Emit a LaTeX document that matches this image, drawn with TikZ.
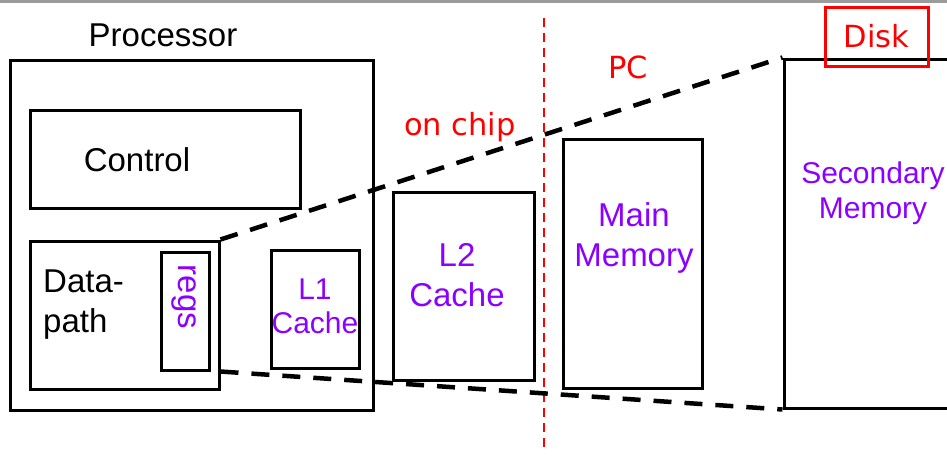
\documentclass[tikz,border=0pt]{standalone}
\usepackage{fontspec}
\setmainfont{Liberation Sans}
\newfontfamily\redfont{DejaVu Sans}
\usetikzlibrary{positioning,calc}
\definecolor{memviolet}{RGB}{140,0,255}
\definecolor{bargray}{RGB}{155,155,155}

\begin{document}
\begin{tikzpicture}[
  x=1pt, y=-1pt,
  unit/.style={draw=black, line width=3pt, inner sep=0pt},
  lbl/.style={inner sep=0pt, align=center, font=\fontsize{33}{40}\selectfont},
  memlbl/.style={lbl, text=memviolet},
  chiplbl/.style={inner sep=0pt, text=red, font=\redfont\fontsize{30.5}{34}\selectfont},
  funnel/.style={line width=4.5pt, dash pattern=on 18pt off 13pt},
]
\useasboundingbox (0,0) rectangle (947,459);
\clip (0,0) rectangle (947,459);

% top rule
\fill[bargray] (0,0) rectangle (947,3);

% ==================== processor ====================
\node[lbl] (ptitle) at (163,35) {Processor};
\node[unit, minimum width=363pt, minimum height=350pt] (proc) at (191.5,235) {};
\node[unit, minimum width=270pt, minimum height=98pt] (ctrl) at (165,159) {};
\node[lbl] (ctrltxt) at (137,160) {Control};
\node[unit, minimum width=189pt, minimum height=148pt] (dp) at (124.5,315) {};
\node[lbl, align=left, anchor=west] (dptxt) at (43,305) {Data-\\path};
\node[unit, minimum width=48pt, minimum height=118pt] (regs) at (185,311) {};
\node[memlbl, rotate=-90] (regstxt) at (184,297) {regs};
\node[unit, minimum width=88pt, minimum height=118pt] (l1) at (315,309) {};
\node[memlbl, font=\fontsize{30}{34}\selectfont] (l1txt) at (315,306) {L1\\Cache};

% ==================== rest of the hierarchy ====================
\node[unit, minimum width=141pt, minimum height=188pt] (l2) at (463.5,286) {};
\node[memlbl] (l2txt) at (457,275) {L2\\Cache};
\node[unit, minimum width=139pt, minimum height=249pt] (mm) at (632.5,263.5) {};
\node[memlbl] (mmtxt) at (634,238) {Main\\Memory};
\node[unit, minimum width=200pt, minimum height=349pt] (sec) at (884,233.5) {};
\node[memlbl, font=\fontsize{30}{35}\selectfont] (sectxt) at (873,193) {Secondary\\Memory};

% ==================== boundaries ====================
\coordinate (cut top) at (544,18);
\coordinate (cut bot) at (544,452);
\draw[red, line width=2.2pt, dash pattern=on 9pt off 6pt] (cut top) -- (cut bot);
\node[chiplbl] (onchip) at (460,127) {on chip};
\node[chiplbl] (pc) at (628,67) {PC};
\node[draw=red, line width=3pt, minimum width=103pt, minimum height=59pt] (disk) at (876.5,36.5) {};
\node[chiplbl] (disktxt) at (disk) {Disk};

% funnel lines
\draw[funnel] (dp.north east) -- (sec.north west);
\draw[funnel] (dp.east |- regs.south) -- (sec.south west);

\end{tikzpicture}
\end{document}
